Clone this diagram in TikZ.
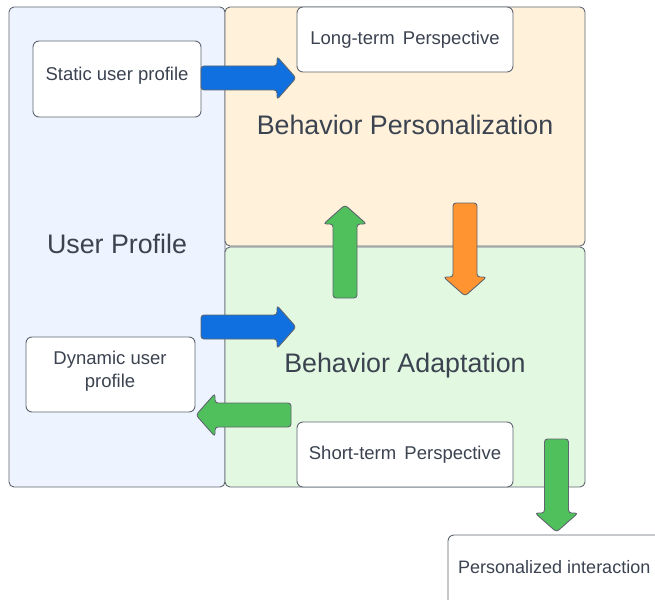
\documentclass[tikz,border=0pt]{standalone}
\usepackage{fontspec}
\setmainfont{Liberation Sans}
\definecolor{edge}{HTML}{5F6670}
\definecolor{ink}{HTML}{3B4350}
\definecolor{upfill}{HTML}{EDF4FF}
\definecolor{bpfill}{HTML}{FFF1DA}
\definecolor{bafill}{HTML}{E3F8E1}
\definecolor{arrblue}{HTML}{1070E0}
\definecolor{arrgreen}{HTML}{50C05C}
\definecolor{arrorange}{HTML}{FF9430}
\tikzset{
  panel/.style={draw=edge, line width=0.9pt, rounded corners=5pt},
  card/.style={draw=edge, line width=0.9pt, fill=white, rounded corners=6pt},
  bigtext/.style={text=ink, font=\fontsize{26.8}{32}\selectfont},
  smalltext/.style={text=ink, font=\fontsize{18.5}{23}\selectfont, align=center},
  blockarrow/.style={draw=edge, line width=0.9pt, fill=#1, rounded corners=3pt}
}
% block arrow: colour, start coordinate name, direction angle, length
\newcommand{\blockarr}[4]{%
  \begin{scope}[shift={(#2)}, rotate=#3]
    \draw[blockarrow=#1] (0,-12) -- (#4-19,-12) -- (#4-19,-21.5)
      -- (#4,0) -- (#4-19,21.5) -- (#4-19,12) -- (0,12) -- cycle;
  \end{scope}}
\begin{document}
\begin{tikzpicture}[x=1pt, y=-1pt]
  \useasboundingbox (0,0) rectangle (655,599);
  % panels
  \draw[panel, fill=upfill] (9,7) rectangle (225,487);
  \draw[panel, fill=bpfill] (225,7) rectangle (585,246);
  \draw[panel, fill=bafill] (225,247) rectangle (585,487);
  \node[bigtext] (up) at (117,244) {User Profile};
  \node[bigtext] (bp) at (405,125) {Behavior Personalization};
  \node[bigtext] (ba) at (405,366) {Behavior Adaptation};
  % cards
  \draw[card] (33,41) rectangle (201,117);
  \node[smalltext] (static) at (117,76) {Static user profile};
  \draw[card] (297,7) rectangle (513,72);
  \node[smalltext] (longterm) at (405,40) {Long-term\, Perspective};
  \draw[card] (26,337) rectangle (195,412);
  \node[smalltext] (dynamic) at (110,371) {Dynamic user\\profile};
  \draw[card] (297,422) rectangle (513,487);
  \node[smalltext] (shortterm) at (405,455) {Short-term\, Perspective};
  \draw[card] (448,535) rectangle (680,620);
  \node[smalltext, font=\fontsize{18}{23}\selectfont, anchor=west, inner sep=0pt]
    (pint) at (458,567) {Personalized interaction};
  % arrow anchors
  \coordinate (a1) at (201,78);
  \coordinate (a2) at (201,327);
  \coordinate (a3) at (291,415);
  \coordinate (a4) at (345,298);
  \coordinate (a5) at (465,203);
  \coordinate (a6) at (556.5,439);
  \blockarr{arrblue}{a1}{0}{95}
  \blockarr{arrblue}{a2}{0}{95}
  \blockarr{arrgreen}{a3}{180}{95}
  \blockarr{arrgreen}{a4}{90}{93}
  \blockarr{arrorange}{a5}{-90}{93}
  \blockarr{arrgreen}{a6}{-90}{93}
\end{tikzpicture}
\end{document}
